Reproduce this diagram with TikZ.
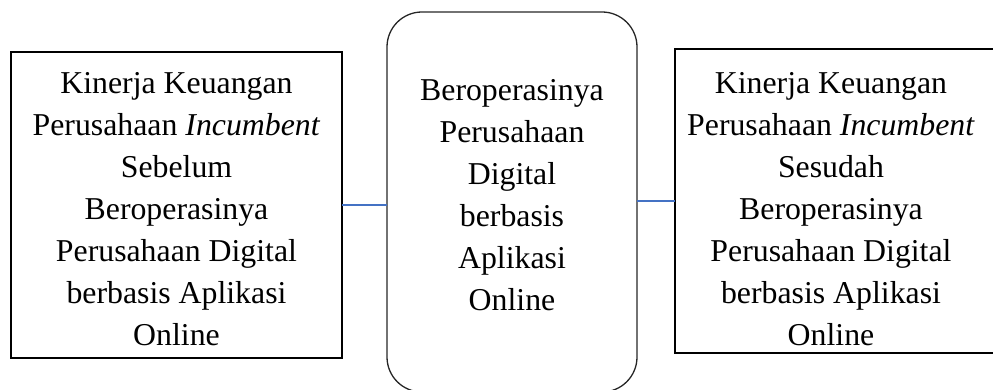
\documentclass[tikz,border=0pt]{standalone}
\usepackage{fontspec}
\setmainfont{Liberation Serif}
\begin{document}
\begin{tikzpicture}[x=1pt,y=1pt,
  sqbox/.style={draw=black,line width=1.5pt,rectangle,inner sep=0pt,outer sep=0pt},
  rndbox/.style={draw=black!85,line width=1.3pt,rectangle,rounded corners=35pt,inner sep=0pt,outer sep=0pt},
  boxtext/.style={align=center,inner sep=0pt,anchor=north,font=\fontsize{31.8}{42}\selectfont},
  conn/.style={draw={rgb,255:red,68;green,114;blue,196},line width=1.5pt}]
\useasboundingbox (0,0) rectangle (993,390);
\node[sqbox,minimum width=331pt,minimum height=306pt] (L) at (176.5,185) {};
\node[rndbox,minimum width=250pt,minimum height=380pt] (M) at (512,188) {};
\node[sqbox,minimum width=326pt,minimum height=304pt] (R) at (838,189) {};
\node[boxtext] (tL) at (176.5,318) {Kinerja Keuangan\\Perusahaan \textit{Incumbent}\\Sebelum\\Beroperasinya\\Perusahaan Digital\\berbasis Aplikasi\\Online};
\node[boxtext] (tM) at (512,311) {Beroperasinya\\Perusahaan\\Digital\\berbasis\\Aplikasi\\Online};
\node[boxtext] (tR) at (831,318) {Kinerja Keuangan\\Perusahaan \textit{Incumbent}\\Sesudah\\Beroperasinya\\Perusahaan Digital\\berbasis Aplikasi\\Online};
\draw[conn] (L.east) -- (L.east -| M.west);
\draw[conn] (R.west -| M.east) -- (R.west);
\end{tikzpicture}
\end{document}
